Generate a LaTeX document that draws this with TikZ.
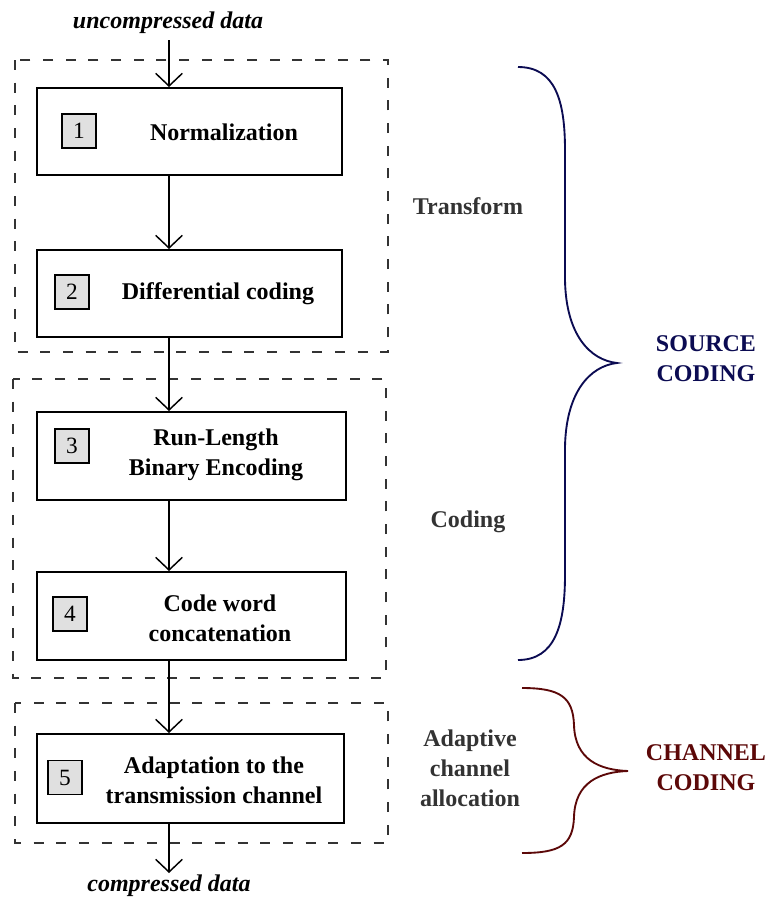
\documentclass[tikz,border=0pt]{standalone}
\usepackage{fontspec}
\setmainfont{Liberation Serif}
\usetikzlibrary{arrows.meta}
\definecolor{navyc}{HTML}{0B0B52}
\definecolor{redc}{HTML}{5C0808}
\definecolor{txtgray}{HTML}{333333}
\definecolor{numfill}{HTML}{E0E0E0}
\begin{document}
\begin{tikzpicture}[x=0.75pt,y=-0.75pt,
  box/.style={draw=black,line width=1.5pt,fill=white,inner sep=0pt},
  numbox/.style={draw=black,line width=1.4pt,fill=numfill,inner sep=0pt,minimum size=25.5pt,font=\fontsize{17.5}{18}\selectfont},
  lbl/.style={font=\fontsize{18}{22.5}\selectfont\bfseries,align=center,inner sep=0pt},
  side/.style={lbl,text=txtgray},
  dashbox/.style={draw=txtgray,line width=1.5pt,dash pattern=on 7.5pt off 9.5pt},
  arr/.style={line width=1.1pt,-{Straight Barb[length=9.5pt,width=20pt,line width=1.1pt]}},
  brace/.style={line width=1.4pt}]
\useasboundingbox (0,0) rectangle (768,897);
% dashed groups
\draw[dashbox] (15,60) rectangle (388,352);
\draw[dashbox] (13,379) rectangle (386,678);
\draw[dashbox] (15,703) rectangle (388,843);
% main boxes
\node[box,minimum width=228.75pt,minimum height=65.25pt] (B1) at (189.5,131.5) {};
\node[box,minimum width=228.75pt,minimum height=65.25pt] (B2) at (189.5,293.5) {};
\node[box,minimum width=231.75pt,minimum height=66pt] (B3) at (191.5,456) {};
\node[box,minimum width=231.75pt,minimum height=66pt] (B4) at (191.5,616) {};
\node[box,minimum width=230.25pt,minimum height=66.75pt] (B5) at (190.5,778.5) {};
% number boxes
\node[numbox] (N1) at (79,131) {1};
\node[numbox] (N2) at (72,292) {2};
\node[numbox] (N3) at (72,446) {3};
\node[numbox] (N4) at (70,614) {4};
\node[numbox] (N5) at (65,777.5) {5};
% box labels
\node[lbl] (T1) at (224,132.5) {Normalization};
\node[lbl] (T2) at (218,293.5) {Differential coding};
\node[lbl] (T3) at (216,455) {Run-Length\\Binary Encoding};
\node[lbl] (T4) at (220,618) {Code word\\concatenation};
\node[lbl] (T5) at (214,780) {Adaptation to the\\transmission channel};
% in/out
\node[font=\fontsize{18}{20}\selectfont\bfseries\itshape,inner sep=0pt] (IN) at (168,23) {uncompressed data};
\node[font=\fontsize{18}{20}\selectfont\bfseries\itshape,inner sep=0pt] (OUT) at (169,886) {compressed data};
\coordinate (ax) at (169,0);
\coordinate (top) at (169,40);
\coordinate (bot) at (169,873);
\draw[arr] (top) -- (B1.north -| ax);
\draw[arr] (B1.south -| ax) -- (B2.north -| ax);
\draw[arr] (B2.south -| ax) -- (B3.north -| ax);
\draw[arr] (B3.south -| ax) -- (B4.north -| ax);
\draw[arr] (B4.south -| ax) -- (B5.north -| ax);
\draw[arr] (B5.south -| ax) -- (bot);
% side labels
\node[side] (S1) at (468,206) {Transform};
\node[side] (S2) at (468,522) {Coding};
\node[side] (S3) at (470,768) {Adaptive\\channel\\allocation};
\node[lbl,text=navyc] (SC) at (706,359) {SOURCE\\CODING};
\node[lbl,text=redc] (CC) at (706,768) {CHANNEL\\CODING};
% braces
\draw[brace,navyc] (518,67) .. controls (555,67) and (565,100) .. (565,150)
  -- (565,280) .. controls (566,335) and (590,360) .. (617,363)
  .. controls (590,366) and (566,392) .. (565,447)
  -- (565,575) .. controls (565,625) and (555,660) .. (518,660);
\draw[brace,redc] (522,688) .. controls (560,688) and (573,697) .. (574,725)
  .. controls (575,760) and (600,770) .. (628,771)
  .. controls (600,772) and (575,782) .. (574,817)
  .. controls (573,845) and (560,853) .. (522,853);
\end{tikzpicture}
\end{document}
